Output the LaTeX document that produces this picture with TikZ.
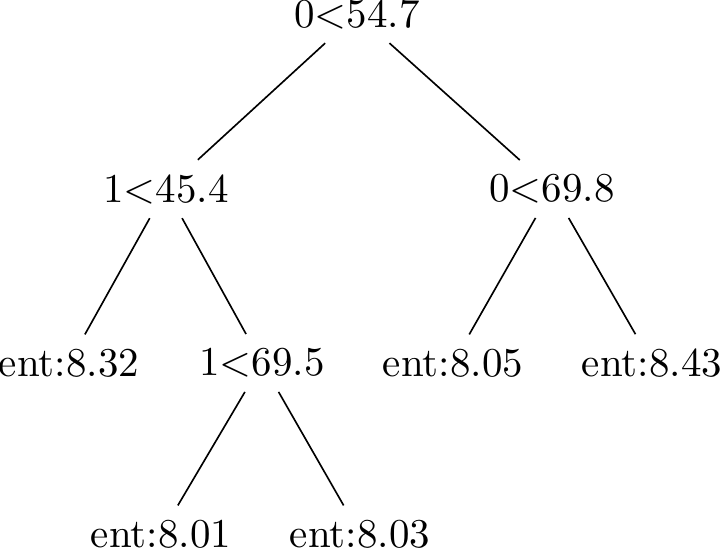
\documentclass[tikz,border=0pt]{standalone}
\usepackage{tikz}

\begin{document}
\begin{tikzpicture}[x=0.244pt,y=-0.244pt,
	branch/.style={black,line width=0.4pt}]
	%Define the levels of the tree
	%depth 0 = root, depth 3 = deepest leaves
	\pgfmathsetmacro{\ytop}{14}
	\pgfmathsetmacro{\yone}{\ytop+175}
	\pgfmathsetmacro{\ytwo}{\yone+174}
	\pgfmathsetmacro{\ythree}{\ytwo+171}

	%Picture frame
	\useasboundingbox (0,0) rectangle (721,551);

	%Split nodes
	\draw node (root) at (357,\ytop) {0<54.7};
	\draw node (left) at (166,\yone) {1<45.4};
	\draw node (right) at (552,\yone) {0<69.8};
	\draw node (leftright) at (262,\ytwo) {1<69.5};

	%Leaves with their entropy
	\draw node (leftleft) at (69,\ytwo) {ent:8.32};
	\draw node (rightleft) at (453,\ytwo) {ent:8.05};
	\draw node (rightright) at (652,\ytwo) {ent:8.43};
	\draw node (lrleft) at (161,\ythree) {ent:8.01};
	\draw node (lrright) at (360,\ythree) {ent:8.03};

	%Branches
	\draw[branch] (root) -- (left);
	\draw[branch] (root) -- (right);
	\draw[branch] (left) -- (leftleft);
	\draw[branch] (left) -- (leftright);
	\draw[branch] (right) -- (rightleft);
	\draw[branch] (right) -- (rightright);
	\draw[branch] (leftright) -- (lrleft);
	\draw[branch] (leftright) -- (lrright);
\end{tikzpicture}
\end{document}
